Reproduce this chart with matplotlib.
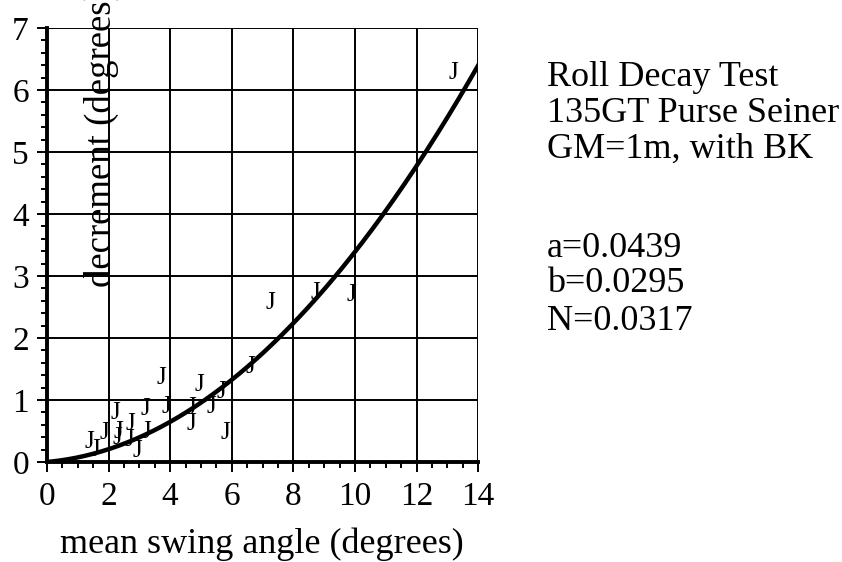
import numpy as np
import matplotlib.pyplot as plt
from matplotlib.ticker import MultipleLocator

plt.rcParams['font.family'] = ['Liberation Serif', 'DejaVu Serif']

# measured roll decay points (mean swing angle, decrement), degrees
swing = [1.37, 1.56, 1.88, 2.21, 2.32, 2.30, 2.67, 2.72, 2.93, 3.18, 3.24, 3.72,
         3.89, 4.70, 4.70, 4.95, 5.35, 5.67, 5.78, 6.59, 7.24, 8.70, 9.89, 13.21]
decrement = [0.33, 0.19, 0.47, 0.79, 0.49, 0.38, 0.355, 0.62, 0.18, 0.85, 0.49, 1.35,
             0.89, 0.87, 0.62, 1.24, 0.89, 1.13, 0.47, 1.54, 2.56, 2.72, 2.69, 6.27]

# fitted coefficients shown on the chart
a = 0.0439
b = 0.0295
N = 0.0317
info_lines = ["Roll Decay Test", "135GT Purse Seiner", "GM=1m, with BK",
              "a=0.0439", "b=0.0295", "N=0.0317"]

fig = plt.figure(figsize=(8.42, 5.62), dpi=100)
ax = fig.add_axes([0.0558, 0.178, 0.512, 0.772])

# fitted curve  decrement = a*phi + b*phi^2
phi = np.linspace(0.1, 14, 200)
ax.plot(phi, a * phi + b * phi ** 2, color='black', lw=3.2, zorder=3)

for x, y in zip(swing, decrement):
    ax.text(x, y, "J", fontsize=18, ha='center', va='center', zorder=4)

ax.set_xlim(0, 14)
ax.set_ylim(0, 7)
ax.xaxis.set_major_locator(MultipleLocator(2))
ax.xaxis.set_minor_locator(MultipleLocator(0.5))
ax.yaxis.set_major_locator(MultipleLocator(1))
ax.yaxis.set_minor_locator(MultipleLocator(0.2))
ax.grid(True, which='major', color='black', lw=1.4)
ax.set_axisbelow(True)

for side in ['top', 'right']:
    ax.spines[side].set_visible(False)
for side in ['left', 'bottom']:
    ax.spines[side].set_linewidth(2.8)

ax.tick_params(which='major', direction='out', length=7, width=1.4,
               labelsize=24, colors='black')
ax.tick_params(which='minor', direction='out', length=4.5, width=1.4)
ax.tick_params(axis='x', which='major', pad=7)
ax.tick_params(axis='y', which='major', pad=6)

fig.text(262 / 842, 1 - 553 / 562, "mean swing angle (degrees)", fontsize=26,
         ha='center', va='baseline')

# y label sits inside the plot and runs off the top of the figure
fig.text(101 / 842, 1 - 287 / 562, "decrement (degrees)", fontsize=26.5,
         rotation=90, ha='center', va='bottom')

baselines = [86.5, 122, 158, 257, 292, 330]
for line, yp in zip(info_lines, baselines):
    fig.text(547 / 842, 1 - yp / 562, line, fontsize=26, ha='left', va='baseline')

fig.savefig("out.png", dpi=100)
